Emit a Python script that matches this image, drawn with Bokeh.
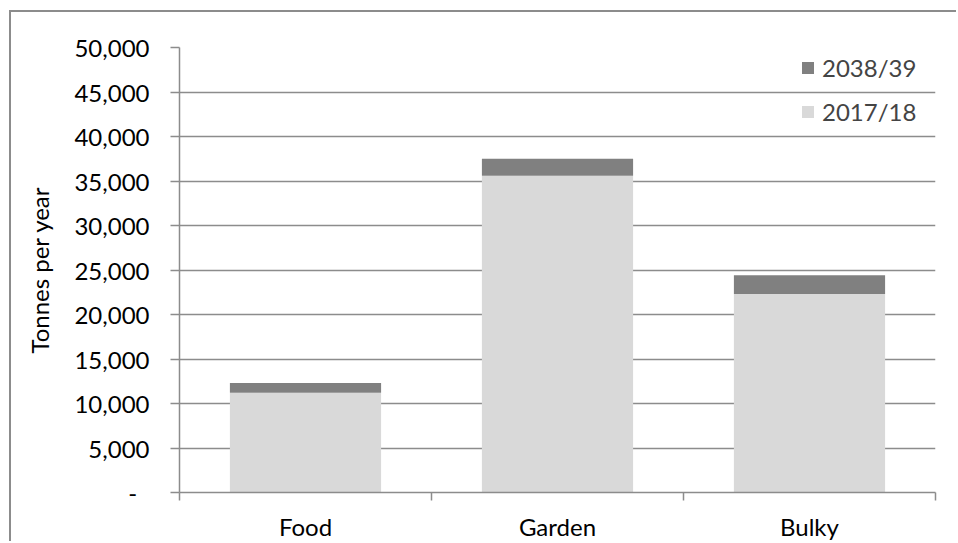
from bokeh.plotting import figure
from bokeh.models import (ColumnDataSource, Range1d, FixedTicker, NumeralTickFormatter,
                          Legend, LegendItem)
from bokeh.embed import file_html
from bokeh.resources import INLINE

categories = ["Food", "Garden", "Bulky"]
base_2017 = [11200, 35600, 22300]
extra_2038 = [1100, 1900, 2100]
y_ticks = [0, 5000, 10000, 15000, 20000, 25000, 30000, 35000, 40000, 45000, 50000]
series = ["2017/18", "2038/39"]
colors = ["#d9d9d9", "#808080"]

FONT = "Lato"
GRID = "#8c8c8c"
FS = "24px"

xs = [i + 0.5 for i in range(len(categories))]
source = ColumnDataSource(dict(x=xs, s2017=base_2017, s2038=extra_2038))

p = figure(width=947, height=531, output_backend="svg", toolbar_location=None,
           x_range=Range1d(0, len(categories)), y_range=Range1d(0, 50000),
           min_border_left=168, min_border_right=23, min_border_top=35, min_border_bottom=48)
p.outline_line_color = None
p.styles = {"border-left": "2px solid #8c8c8c", "border-top": "2px solid #8c8c8c",
            "margin-left": "9px", "margin-top": "10px"}

renderers = p.vbar_stack(["s2017", "s2038"], x="x", width=0.6, source=source,
                         color=colors, line_color=None)

p.xaxis.ticker = FixedTicker(ticks=xs, minor_ticks=list(range(len(categories) + 1)))
p.xaxis.major_label_overrides = {x: c for x, c in zip(xs, categories)}
p.xaxis.major_tick_out = 0
p.xaxis.major_tick_in = 0
p.xaxis.minor_tick_out = 8
p.xaxis.minor_tick_in = 0
p.xaxis.minor_tick_line_color = GRID
p.xaxis.minor_tick_line_width = 1.5
p.xaxis.axis_line_color = GRID
p.xaxis.axis_line_width = 1.5
p.xaxis.major_label_text_font = FONT
p.xaxis.major_label_text_font_size = FS
p.xaxis.major_label_text_color = "black"
p.xaxis.major_label_standoff = 11
p.xgrid.grid_line_color = None

p.yaxis.ticker = FixedTicker(ticks=y_ticks, minor_ticks=[])
p.yaxis.formatter = NumeralTickFormatter(format="0,0")
p.yaxis.major_label_overrides = {0: "-\u00a0\u00a0"}
p.yaxis.major_tick_out = 9
p.yaxis.major_tick_in = 0
p.yaxis.major_tick_line_color = GRID
p.yaxis.major_tick_line_width = 1.5
p.yaxis.axis_line_color = GRID
p.yaxis.axis_line_width = 1.5
p.yaxis.major_label_text_font = FONT
p.yaxis.major_label_text_font_size = FS
p.yaxis.major_label_text_color = "black"
p.yaxis.major_label_standoff = 21
p.yaxis.axis_label = "Tonnes per year"
p.yaxis.axis_label_text_font = FONT
p.yaxis.axis_label_text_font_size = FS
p.yaxis.axis_label_text_font_style = "normal"
p.yaxis.axis_label_text_color = "black"
p.yaxis.axis_label_standoff = 17
p.ygrid.grid_line_color = GRID
p.ygrid.grid_line_width = 1.5

legend = Legend(items=[LegendItem(label=series[1], renderers=[renderers[1]]),
                       LegendItem(label=series[0], renderers=[renderers[0]])],
                location=(621, 366), padding=0, margin=0, spacing=14,
                glyph_width=15, glyph_height=15, label_height=30, label_standoff=7,
                label_text_font=FONT, label_text_font_size=FS,
                border_line_color=None, background_fill_alpha=0)
p.add_layout(legend)

open("out.html", "w").write(file_html(p, INLINE))
